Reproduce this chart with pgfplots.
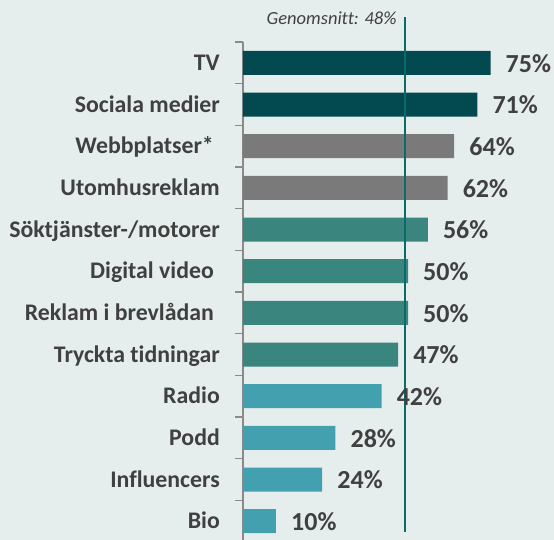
\documentclass[border=0pt]{standalone}
\usepackage{fontspec}
\setmainfont{Carlito}[Ligatures=NoCommon]
\usepackage{pgfplots}
\pgfplotsset{compat=1.18}
\definecolor{bg}{HTML}{E6EEED}
\definecolor{dark}{HTML}{024950}
\definecolor{grey}{HTML}{7A7A7A}
\definecolor{mid}{HTML}{3A857D}
\definecolor{light}{HTML}{42A0AF}
\definecolor{avg}{HTML}{0B6B6B}
\definecolor{txt}{HTML}{404040}
\definecolor{axisgray}{HTML}{8A8A8A}

\begin{document}
\begin{tikzpicture}
\fill[bg] (-243bp,-498bp) rectangle (311bp,42bp);
\begin{axis}[
  at={(0,0)},anchor=north west,
  scale only axis,width=311bp,height=500bp,
  xmin=0,xmax=94.24,ymin=0.5,ymax=12.5,
  y dir=reverse,
  axis x line=none,axis y line=left,
  y axis line style={-,draw=axisgray,line width=1.4bp},
  xbar,bar width=24bp,bar shift=0pt,
  ytick={1,...,12},
  yticklabels={TV,Sociala medier,Webbplatser*\kern6bp,Utomhusreklam,Söktjänster-/motorer,Digital video\kern6bp,Reklam i brevlådan\kern6bp,Tryckta tidningar,Radio,Podd,Influencers,Bio},
  major tick length=0pt,
  minor ytick={0.5,1.5,...,12.5},
  minor tick length=8bp,tick align=outside,ytick pos=left,
  minor tick style={draw=axisgray,line width=1.2bp},
  yticklabel style={anchor=base east,inner sep=0pt,xshift=-23bp,yshift=-7.6bp,
    font=\fontsize{23.8bp}{27bp}\selectfont\bfseries,text=txt},
  /pgf/number format/assume math mode=true,
  nodes near coords={\pgfmathprintnumber{\pgfplotspointmeta}\%},
  nodes near coords style={anchor=base west,inner sep=0pt,xshift=15bp,yshift=-9.3bp,
    font=\fontsize{26bp}{30bp}\selectfont\bfseries,text=txt},
  point meta=x,
  clip=false]
  \addplot[fill=dark,draw=none,bar shift=0pt] coordinates {(75,1) (71,2)};
  \addplot[fill=grey,draw=none,bar shift=0pt] coordinates {(64,3) (62,4)};
  \addplot[fill=mid,draw=none,bar shift=0pt] coordinates {(56,5) (50,6) (50,7) (47,8)};
  \addplot[fill=light,draw=none,bar shift=0pt] coordinates {(42,9) (28,10) (24,11) (10,12)};
  \draw[avg,line width=2bp] (axis cs:49,-0.1) -- (axis cs:49,12.25);
  \node[anchor=base east,inner sep=0pt,text=txt,font=\fontsize{18.5bp}{22bp}\selectfont\itshape]
    at ([xshift=-8bp]axis cs:49,0.09) {Genomsnitt: 48\%};
\end{axis}
\pgfresetboundingbox
\path[use as bounding box] (-243bp,-498bp) rectangle (311bp,42bp);
\end{tikzpicture}
\end{document}
